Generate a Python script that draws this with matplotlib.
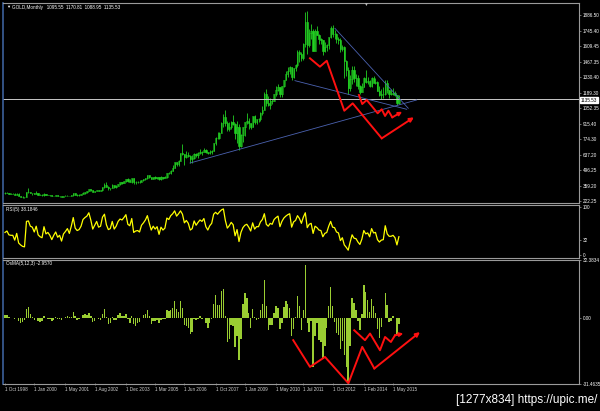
import matplotlib
matplotlib.use("Agg")
import numpy as np
import matplotlib.pyplot as plt

plt.rcParams['font.family'] = ['Liberation Sans', 'DejaVu Sans']

# GOLD monthly, Oct 1998 .. Aug 2015
first_open = 294.0

close = [
    292, 294, 288,
    287, 287, 280, 286, 268, 261, 255, 254, 299, 300, 292, 290,
    283, 293, 278, 274, 272, 289, 276, 278, 273, 264, 269, 273,
    265, 267, 257, 264, 267, 270, 265, 273, 293, 279, 275, 277,
    282, 297, 303, 308, 326, 318, 305, 313, 324, 316, 318, 347,
    368, 348, 336, 339, 364, 346, 355, 375, 388, 386, 398, 416,
    399, 396, 427, 388, 393, 395, 391, 408, 416, 428, 453, 438,
    422, 435, 428, 435, 417, 435, 429, 433, 473, 470, 495, 517,
    569, 556, 583, 654, 643, 614, 633, 623, 599, 604, 646, 632,
    651, 665, 662, 679, 659, 650, 665, 673, 743, 789, 783, 834,
    923, 971, 916, 864, 886, 926, 913, 830, 880, 718, 816, 882,
    928, 942, 916, 884, 979, 927, 955, 955, 1008, 1040, 1182, 1096,
    1081, 1118, 1113, 1180, 1213, 1244, 1181, 1248, 1307, 1357, 1386, 1421,
    1332, 1411, 1439, 1556, 1536, 1500, 1628, 1828, 1620, 1724, 1746, 1566,
    1740, 1711, 1669, 1664, 1562, 1604, 1614, 1692, 1773, 1719, 1713, 1675,
    1664, 1578, 1596, 1472, 1393, 1234, 1312, 1395, 1327, 1323, 1253, 1202,
    1240, 1326, 1284, 1296, 1250, 1327, 1282, 1287, 1208, 1171, 1182, 1184,
    1279, 1213, 1183, 1183, 1190, 1172, 1095.55, 1135.53,
]
high = [
    301, 300, 297,
    293, 293, 290, 294, 290, 269, 267, 262, 305, 338, 300, 296,
    292, 316, 298, 284, 281, 292, 289, 279, 279, 274, 271, 276,
    274, 268, 269, 270, 275, 278, 270, 277, 295, 294, 282, 281,
    284, 305, 304, 311, 327, 330, 320, 316, 325, 325, 323, 350,
    385, 389, 352, 340, 375, 367, 363, 377, 390, 395, 400, 417,
    428, 416, 432, 428, 398, 405, 408, 414, 419, 432, 457, 456,
    440, 441, 445, 438, 436, 443, 437, 448, 475, 480, 497, 541,
    574, 575, 588, 654, 732, 645, 672, 663, 633, 631, 651, 649,
    660, 690, 672, 692, 689, 663, 683, 679, 745, 795, 841, 838,
    933, 1005, 1033, 938, 926, 935, 988, 921, 935, 913, 826, 886,
    931, 1006, 961, 918, 983, 990, 960, 967, 1021, 1071, 1195, 1226,
    1162, 1140, 1134, 1183, 1248, 1266, 1245, 1250, 1307, 1388, 1424, 1431,
    1424, 1412, 1447, 1576, 1577, 1556, 1632, 1913, 1920, 1761, 1804, 1764,
    1764, 1791, 1714, 1679, 1667, 1641, 1627, 1693, 1790, 1796, 1754, 1723,
    1694, 1677, 1617, 1611, 1487, 1420, 1348, 1433, 1434, 1361, 1351, 1262,
    1280, 1333, 1392, 1331, 1306, 1332, 1345, 1323, 1292, 1255, 1220, 1238,
    1307, 1306, 1219, 1224, 1232, 1205, 1175, 1170.81,
]
low = [
    286, 290, 285,
    282, 284, 277, 278, 268, 258, 253, 251, 254, 294, 290, 276,
    281, 282, 276, 272, 271, 271, 275, 273, 269, 263, 264, 267,
    263, 256, 255, 256, 263, 267, 263, 264, 270, 276, 270, 271,
    277, 281, 286, 298, 308, 310, 303, 301, 311, 313, 314, 316,
    342, 345, 324, 320, 336, 342, 342, 352, 368, 372, 380, 395,
    390, 392, 387, 371, 375, 382, 385, 389, 402, 412, 422, 428,
    417, 418, 423, 421, 414, 414, 416, 429, 432, 460, 467, 490,
    516, 539, 536, 583, 637, 542, 608, 612, 560, 560, 600, 613,
    603, 645, 637, 662, 651, 641, 643, 642, 668, 727, 775, 781,
    833, 887, 895, 850, 845, 863, 900, 780, 739, 681, 706, 754,
    801, 915, 866, 865, 882, 909, 908, 930, 938, 993, 1040, 1075,
    1074, 1045, 1087, 1113, 1166, 1204, 1155, 1157, 1241, 1307, 1333, 1357,
    1309, 1324, 1383, 1420, 1462, 1478, 1482, 1603, 1535, 1603, 1671, 1563,
    1562, 1708, 1628, 1626, 1527, 1551, 1567, 1585, 1685, 1693, 1672, 1636,
    1626, 1554, 1562, 1321, 1339, 1180, 1207, 1271, 1291, 1251, 1221, 1182,
    1202, 1239, 1277, 1268, 1240, 1240, 1280, 1272, 1208, 1162, 1132, 1142,
    1167, 1191, 1142, 1175, 1169, 1162, 1077, 1088.95,
]

# RSI(5) panel
rsi_vals = [
    47, 50, 42,
    41, 41, 31, 45, 25, 21, 18, 17, 70, 71, 60, 58,
    48, 60, 42, 38, 36, 59, 44, 47, 41, 32, 41, 48,
    37, 41, 29, 44, 49, 55, 45, 60, 78, 56, 51, 53,
    60, 74, 78, 81, 88, 73, 54, 62, 70, 58, 60, 79,
    85, 63, 53, 55, 70, 54, 60, 70, 75, 73, 78, 84,
    64, 61, 76, 47, 50, 51, 48, 62, 67, 73, 82, 66,
    52, 60, 54, 59, 43, 58, 52, 56, 77, 74, 82, 86,
    92, 81, 86, 92, 85, 67, 72, 66, 52, 55, 71, 62,
    68, 73, 70, 76, 59, 52, 61, 66, 85, 89, 85, 90,
    94, 96, 72, 56, 61, 68, 63, 40, 53, 28, 47, 57,
    62, 64, 58, 50, 67, 54, 59, 59, 69, 74, 86, 64,
    60, 66, 64, 74, 78, 81, 59, 70, 77, 81, 84, 86,
    58, 69, 72, 82, 76, 66, 79, 88, 57, 64, 66, 45,
    60, 57, 52, 51, 38, 45, 47, 60, 70, 58, 57, 48,
    46, 30, 36, 21, 16, 10, 27, 42, 35, 34, 27, 22,
    33, 51, 44, 46, 38, 55, 46, 47, 32, 27, 31, 32,
    61, 44, 39, 39, 41, 36, 21, 38.18,
]

# OsMA(5,12,3) histogram
osma_vals = [
    2.1, 1.7, 0.7,
    0.2, 0.3, -0.4, 0.3, -1.4, -2.4, -2.0, -1.1, 5.3, 6.1, 2.6, 0.6,
    -0.8, 0.2, -1.2, -2.1, -1.6, 1.1, 0.2, -0.4, -0.6, -1.6, -0.7, 0.6,
    -0.2, -0.1, -0.9, -0.0, 1.0, 1.3, 0.5, 1.0, 3.5, 1.4, -0.7, -0.6,
    0.3, 2.1, 2.6, 2.0, 3.1, 1.2, -2.0, -1.6, 0.4, -0.6, -1.1, 2.5,
    5.1, 0.9, -3.0, -2.8, 1.0, -0.7, -1.0, 1.8, 3.1, 1.5, 1.3, 2.6,
    -0.5, -2.7, 1.1, -3.2, -4.3, -2.5, -2.2, 0.2, 1.7, 2.5, 4.5, 1.5,
    -2.9, -1.7, -1.7, -1.1, -2.8, -0.9, -0.4, -0.4, 4.5, 4.1, 4.4, 5.7,
    9.5, 5.2, 3.4, 9.9, 5.8, -3.8, -4.4, -5.1, -8.6, -7.5, -0.4, -0.8,
    -0.4, 1.2, -0.3, 0.3, -2.7, -5.1, -2.6, -0.5, 7.7, 12.8, 7.3, 7.6,
    15.3, 16.2, 1.1, -13.2, -11.6, -3.5, -4.1, -15.7, -9.7, -23.3, -11.3, 7.8,
    13.8, 11.5, 2.9, -5.2, 5.3, 1.0, -0.7, -0.2, 4.7, 8.0, 21.3, 7.0,
    -6.6, -3.4, -3.4, 2.9, 6.6, 6.0, -6.0, -2.5, 6.4, 9.5, 7.8, 5.8,
    -10.0, -5.8, 0.9, 12.2, 6.8, -6.6, 4.8, 29.4, -2.7, -7.8, -1.4, -26.8,
    -9.5, -2.3, -11.9, -13.0, -22.4, -15.1, -5.4, 6.6, 17.4, 6.6, -2.1, -7.9,
    -9.4, -17.2, -12.7, -20.3, -26.7, -35.7, -15.5, 11.5, 8.4, 4.8, -1.5, -6.7,
    2.5, 18.7, 14.4, 10.0, 3.3, 10.6, 7.0, 3.2, -6.1, -11.0, -5.0, 0.4,
    14.1, 7.3, -2.1, -1.6, 1.3, 0.4, -8.6, -2.96,
]

# time axis labels and the bars they sit on
x_label_bars = [0, 15, 31, 46, 62, 77, 92, 108, 123, 139, 153, 168, 184, 199]
x_labels = ['1 Oct 1998', '1 Jan 2000', '1 May 2001', '1 Aug 2002', '1 Dec 2003',
            '1 Mar 2005', '1 Jun 2006', '1 Oct 2007', '1 Jan 2009', '1 May 2010',
            '1 Jul 2011', '1 Oct 2012', '1 Feb 2014', '1 May 2015']
price_labels = [1886.50, 1745.40, 1609.45, 1467.35, 1330.40, 1189.30, 1052.35,
                915.40, 774.30, 637.20, 496.25, 359.20, 222.25]
last_price = 1135.53

# hand drawn lines on the chart: (bar index, value)
trend_lines = [
    [(169.2, 1767), (206.8, 1052)],
    [(148.7, 1299), (206.0, 1043)],
    [(94.9, 562), (211.1, 1126)],
]
red_main = [(156.4, 1499), (161.5, 1424), (165.0, 1477), (174.0, 1030),
            (178.3, 1096), (193.2, 783)]
red_main_arrow = [(193.2, 783), (209.7, 971)]
red_main2 = [(181.5, 1171), (183.2, 1090), (185.5, 1126), (191.1, 1007), (193.2, 1043),
             (194.9, 983), (196.6, 1030), (198.6, 971)]
red_main2_arrow = [(198.6, 971), (203.7, 1021)]
red_osma = [(147.8, -12.1), (156.4, -26.9), (164.1, -21.4), (176.1, -36.0),
            (183.2, -15.8), (189.4, -27.8)]
red_osma_arrow = [(189.4, -27.8), (212.8, -7.6)]
red_osma2 = [(179.1, -6.6), (184.6, -12.1), (187.2, -8.4), (192.3, -17.7), (194.9, -10.3),
             (197.9, -13.1), (200.0, -9.4)]
red_osma2_arrow = [(200.0, -9.4), (204.3, -8.4)]

n = len(close)
x = np.arange(n)
opens = np.array([first_open] + close[:-1], float)
c = np.array(close, float)

W, H = 600, 411
BG = 'black'
GRID = '#9a9a9a'
GREEN = '#22d022'
RED = '#ff1010'
FS = 3.3

fig = plt.figure(figsize=(W / 100, H / 100), dpi=100, facecolor=BG)


def rect(x0, y0, x1, y1):
    return [x0 / W, 1 - y1 / H, (x1 - x0) / W, (y1 - y0) / H]


def red_arrow(ax, pts, scale=6):
    ax.annotate('', xy=pts[1], xytext=pts[0],
                arrowprops=dict(arrowstyle='-|>', color=RED, lw=1.4,
                                mutation_scale=scale, shrinkA=0, shrinkB=0))


ax1 = fig.add_axes(rect(3, 3, 579, 203))
ax2 = fig.add_axes(rect(3, 205, 579, 258), sharex=ax1)
ax3 = fig.add_axes(rect(3, 260, 579, 384), sharex=ax1)

for ax in (ax1, ax2, ax3):
    ax.set_facecolor(BG)
    for s in ax.spines.values():
        s.set_color(GRID)
        s.set_linewidth(0.8)
    ax.spines['left'].set_color('#3c5f9a')
    ax.spines['left'].set_linewidth(1.2)
    ax.yaxis.tick_right()
    ax.tick_params(axis='y', colors=GRID, labelcolor='white', labelsize=FS,
                   length=1.5, width=0.5, pad=1)
    ax.tick_params(axis='x', bottom=False, labelbottom=False)

px_bar = 1.95
x_left = -2 / px_bar
ax1.set_xlim(x_left, x_left + 576 / px_bar)

# price panel
ax1.vlines(x, low, high, color=GREEN, lw=0.6)
bull = c >= opens
ax1.bar(x[bull], (c - opens)[bull], bottom=opens[bull], width=0.7,
        color=BG, edgecolor=GREEN, linewidth=0.4)
ax1.bar(x[~bull], (opens - c)[~bull], bottom=c[~bull], width=0.7,
        color=GREEN, edgecolor=GREEN, linewidth=0.4)
ax1.axhline(last_price, color='#c8c8c8', lw=0.7)
ax1.set_ylim(222.25 - 2 * 8.947, 1886.5 + 12 * 8.947)
ax1.set_yticks(price_labels)
ax1.set_yticklabels(['%.2f' % p for p in price_labels])

for ln in trend_lines:
    ax1.plot(*zip(*ln), color='#4b62b0', lw=0.6)
ax1.plot(*zip(*red_main), color=RED, lw=1.4)
ax1.plot(*zip(*red_main2), color=RED, lw=1.4)
red_arrow(ax1, red_main_arrow)
red_arrow(ax1, red_main2_arrow, 5)

fig.text(581 / W, 1 - 100 / H, '%.2f' % last_price,
         fontsize=FS, color='black', va='center', ha='left',
         bbox=dict(boxstyle='square,pad=0.15', fc='white', ec='white'))

# RSI panel
ax2.plot(x, rsi_vals, color='#ffff00', lw=0.9)
ax2.set_ylim(-6.25, 104.2)
ax2.set_yticks([100, 32, 0])
ax2.set_yticklabels(['100', '32', '0'])

# OsMA panel
ax3.bar(x, osma_vals, width=0.75, color='#9acd32', linewidth=0)
ax3.set_ylim(-36.4, 32.38)
ax3.set_yticks([32.38, 0, -36.4])
ax3.set_yticklabels(['32.3834', '0.00', '-31.4635'])
ax3.plot(*zip(*red_osma), color=RED, lw=1.4)
ax3.plot(*zip(*red_osma2), color=RED, lw=1.4)
red_arrow(ax3, red_osma_arrow)
red_arrow(ax3, red_osma2_arrow, 5)

ax3.set_xticks(x_label_bars)
ax3.tick_params(axis='x', bottom=True, labelbottom=True, colors=GRID,
                labelcolor='#d0d0d0', labelsize=FS, length=2, width=0.5,
                direction='inout', pad=1)
ax3.set_xticklabels(x_labels, ha='left')

# captions
fig.text(12 / W, 1 - 7 / H, 'GOLD,Monthly   1095.55  1170.81  1088.95  1135.53',
         color='white', fontsize=FS, va='center')
fig.text(6 / W, 1 - 7 / H, '\u25bc', color='white', fontsize=3, va='center')
fig.text(365 / W, 1 - 4 / H, '\u25bc', color='#bbbbbb', fontsize=3.5, va='center', ha='center')
fig.text(6 / W, 1 - 209 / H, 'RSI(5) 38.1846', color='white', fontsize=FS, va='center')
fig.text(6 / W, 1 - 264 / H, 'OsMA(5,12,3) -2.9570', color='white', fontsize=FS, va='center')
fig.text(597 / W, 1 - 400 / H, '[1277x834] https://upic.me/', color='white',
         fontsize=8.5, va='center', ha='right')

fig.savefig('out.png', dpi=100, facecolor=BG)
